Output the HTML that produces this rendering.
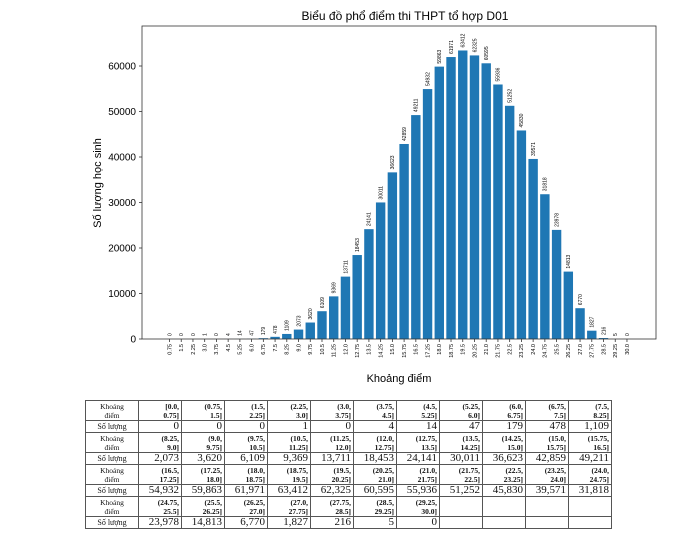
<!DOCTYPE html><html><head><meta charset="utf-8"><style>
body{margin:0;width:700px;height:555px;background:#fff;position:relative;overflow:hidden}
svg{position:absolute;left:0;top:0}
table{position:absolute;left:85px;top:400px;border-collapse:collapse;font-family:"Liberation Serif",serif;table-layout:fixed;width:527px}
td{border:1px solid #555;padding:0 2px;text-align:right;line-height:9px;color:#111}
td:first-child{text-align:center;font-size:8px;width:48px;font-weight:normal}
tr.h td{height:19px;font-size:7.5px;font-weight:bold}
tr.h td:first-child{font-weight:normal}
tr.n td{height:11px;font-size:11px;line-height:11px}
tr.n td:first-child{font-size:8px}
</style></head><body>
<svg width="700" height="400" id="s" font-family="Liberation Sans, DejaVu Sans, sans-serif"></svg>
<table id="t"></table>
<script>
var v=[0,0,0,1,0,4,14,47,179,478,1109,2073,3620,6109,9369,13711,18453,24141,30011,36623,42859,49211,54932,59863,61971,63412,62325,60595,55936,51252,45830,39571,31818,23978,14813,6770,1827,216,5,0];
var s='';var base=339,k=45.5/10000;
s+='<text x="405" y="20" font-size="12" text-anchor="middle">Biểu đồ phổ điểm thi THPT tổ hợp D01</text>';
for(var i=0;i<40;i++){var cx=169.5+i*11.73,h=v[i]*k;
s+='<rect x="'+(cx-4.7)+'" y="'+(base-h)+'" width="9.4" height="'+h+'" fill="#1f77b4"/>';
var ty=base-h-3;s+='<text transform="translate('+(cx+1.8)+','+ty+') rotate(-90)" font-size="5">'+v[i]+'</text>';
var lab=((i+1)*0.75).toString();if(lab.indexOf('.')<0)lab+='.0';
s+='<line x1="'+cx+'" y1="'+base+'" x2="'+cx+'" y2="'+(base+3)+'" stroke="#333" stroke-width="0.8"/>';
s+='<text transform="translate('+(cx+1.8)+','+(base+5)+') rotate(-90)" font-size="5.5" text-anchor="end">'+lab+'</text>';}
s+='<rect x="142" y="26" width="514" height="313" fill="none" stroke="#333" stroke-width="0.8"/>';
for(var j=0;j<=6;j++){var y=base-j*45.5;s+='<line x1="139" y1="'+y+'" x2="142" y2="'+y+'" stroke="#333" stroke-width="0.8"/><text x="136" y="'+(y+3.5)+'" font-size="10" text-anchor="end">'+(j*10000)+'</text>';}
s+='<text transform="translate(101,183) rotate(-90)" font-size="11" text-anchor="middle">Số lượng học sinh</text>';
s+='<text x="399" y="382" font-size="11" text-anchor="middle">Khoảng điểm</text>';
document.getElementById('s').innerHTML=s;
function f(x){var t=x.toString();if(t.indexOf('.')<0)t+='.0';return t}
var t='';
for(var r=0;r<4;r++){var h='<tr class="h"><td>Khoảng<br>điểm</td>',n='<tr class="n"><td>Số lượng</td>';
for(var c=0;c<11;c++){var i=r*11+c;if(i<40){h+='<td>'+(i==0?'[':'(')+f(i*0.75)+',<br>'+f((i+1)*0.75)+']</td>';n+='<td>'+v[i].toLocaleString('en-US')+'</td>';}else{h+='<td></td>';n+='<td></td>';}}
t+=h+'</tr>'+n+'</tr>';}
document.getElementById('t').innerHTML=t;
</script></body></html>
